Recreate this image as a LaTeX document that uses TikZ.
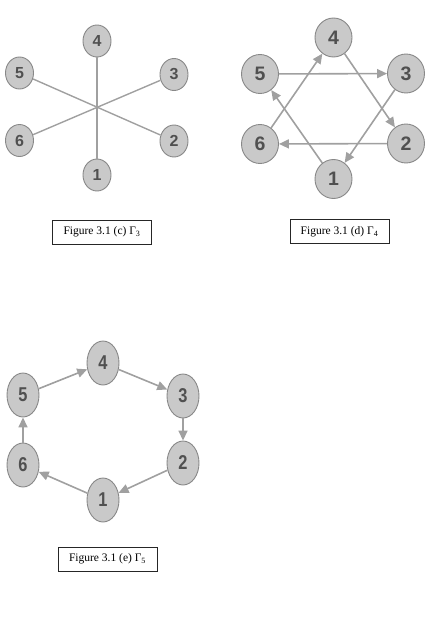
\documentclass[tikz,border=0pt]{standalone}
\usepackage{fontspec}
\usepackage{graphicx}
\setmainfont{Liberation Serif}
\newfontfamily\numfont{Liberation Sans}
\usetikzlibrary{shapes.geometric,arrows.meta}
\definecolor{nodefill}{HTML}{C9C9C9}
\definecolor{nodeline}{HTML}{888888}
\definecolor{edgecol}{HTML}{A0A0A0}
\definecolor{numcol}{HTML}{505050}
\newcommand{\cnd}[1]{\scalebox{0.82}[1]{#1}}
\tikzset{
  vtx/.style={ellipse, draw=nodeline, fill=nodefill, line width=0.9pt, inner sep=0pt,
    text=numcol, font=\numfont\bfseries},
  vc/.style={vtx, minimum width=28pt, minimum height=32pt, font=\numfont\bfseries\fontsize{16}{16}\selectfont},
  vd/.style={vtx, minimum width=37pt, minimum height=39pt, font=\numfont\bfseries\fontsize{19.5}{19.5}\selectfont},
  ve/.style={vtx, minimum width=32pt, minimum height=44pt, font=\numfont\bfseries\fontsize{20}{20}\selectfont},
  plain/.style={draw=edgecol, line width=1.4pt},
  arr/.style={draw=edgecol, line width=1.6pt, -{Triangle[length=10pt,width=9pt]}},
  caption/.style={draw=black!85, line width=0.6pt, minimum width=99pt, minimum height=24pt,
    inner sep=0pt, font=\fontsize{11.5}{12}\selectfont}
}
\begin{document}
\begin{tikzpicture}[x=1pt,y=-1pt]
\useasboundingbox (0,0) rectangle (441,629);
% ---------- (c) ----------
\node[vc] (c4) at (97,41) {4};
\node[vc] (c5) at (19.5,73) {5};
\node[vc] (c3) at (174,74.5) {3};
\node[vc] (c6) at (19.5,140.5) {6};
\node[vc] (c2) at (174,141) {2};
\node[vc] (c1) at (97,175) {1};
\draw[plain] (c4) -- (c1);
\draw[plain] (c5) -- (c2);
\draw[plain] (c6) -- (c3);
\node[caption] (capc) at (102,232) {Figure 3.1 (c) Γ\textsubscript{3}};
% ---------- (d) ----------
\node[vd] (d4) at (333.5,37.5) {4};
\node[vd] (d5) at (260,74) {5};
\node[vd] (d3) at (406,73.5) {3};
\node[vd] (d6) at (260,144) {6};
\node[vd] (d2) at (406,143.5) {2};
\node[vd] (d1) at (333.5,179) {1};
\draw[arr] (d5) -- (d3);
\draw[arr] (d4) -- (d2);
\draw[arr] (d3) -- (d1);
\draw[arr] (d2) -- (d6);
\draw[arr] (d1) -- (d5);
\draw[arr] (d6) -- (d4);
\node[caption] (capd) at (339.5,231.5) {Figure 3.1 (d) Γ\textsubscript{4}};
% ---------- (e) ----------
\node[ve] (e4) at (103,363) {\cnd{4}};
\node[ve] (e5) at (23,395) {\cnd{5}};
\node[ve] (e3) at (183,396) {\cnd{3}};
\node[ve] (e6) at (23,465) {\cnd{6}};
\node[ve] (e2) at (183,463) {\cnd{2}};
\node[ve] (e1) at (103,500) {\cnd{1}};
\draw[arr] (e5) -- (e4);
\draw[arr] (e4) -- (e3);
\draw[arr] (e3) -- (e2);
\draw[arr] (e2) -- (e1);
\draw[arr] (e1) -- (e6);
\draw[arr] (e6) -- (e5);
\node[caption] (cape) at (107.5,559) {Figure 3.1 (e) Γ\textsubscript{5}};
\end{tikzpicture}
\end{document}
